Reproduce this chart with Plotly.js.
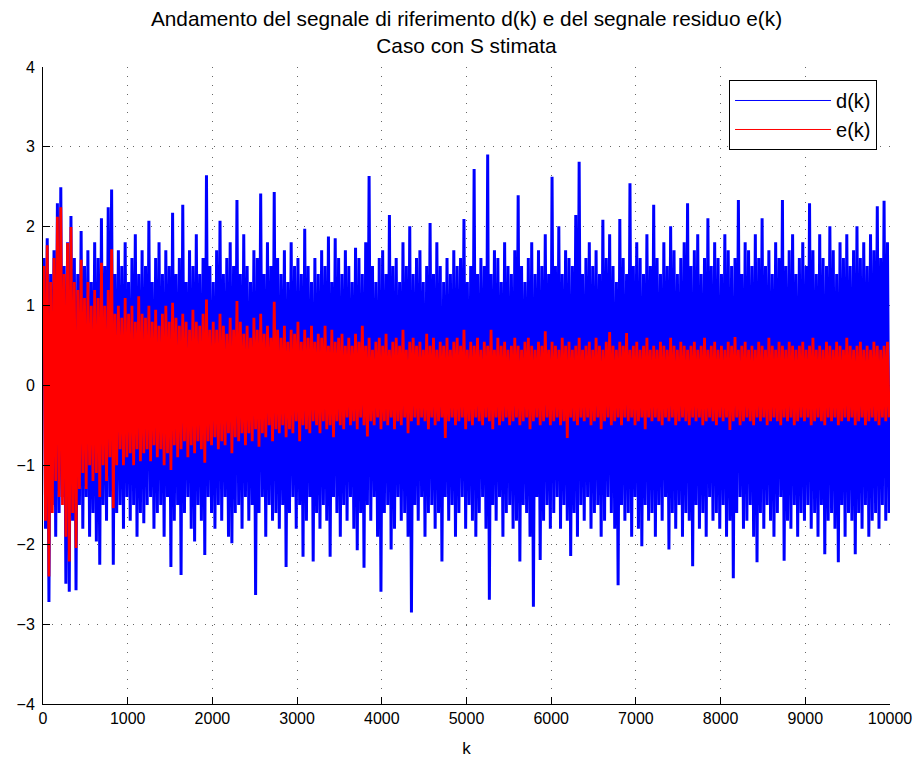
<!DOCTYPE html>
<html>
<head>
<meta charset="utf-8">
<script src="https://cdn.plot.ly/plotly-3.0.1.min.js"></script>
<style>html,body{margin:0;padding:0;background:#fff;}#chart{width:923px;height:762px;}</style>
</head>
<body>
<div id="chart"></div>
<script>
// Samples per bin (each bin: local max and local min)
const BIN = 40;

// d(k): local maxima per bin of 40 samples
const dHi = [
1.6,1.85,1.4,1.7,2.29,2.49,1.5,1.8,2.13,1.6,
1.4,1.94,1.5,1.7,1.3,1.8,1.6,2.1,1.5,2.24,
2.46,1.4,1.7,1.5,1.8,1.3,1.6,1.9,1.4,1.7,
1.5,2.07,1.3,1.6,1.8,1.4,1.7,1.5,2.17,1.4,
1.6,2.27,1.3,1.7,1.5,1.9,1.4,1.6,2.64,1.5,
1.3,1.7,2.07,1.4,1.6,1.8,1.5,2.33,1.4,1.9,
1.5,1.3,1.7,1.6,2.41,1.4,1.8,1.5,2.43,1.6,
1.4,1.7,1.3,1.8,1.5,1.6,1.4,1.97,1.5,1.3,
1.6,1.4,1.7,1.5,1.87,1.3,1.85,1.6,1.4,1.7,
1.5,1.3,1.73,1.6,1.4,1.8,2.63,1.5,1.3,1.6,
1.7,1.4,2.14,1.5,1.6,1.3,1.8,1.5,2.0,1.4,
1.6,1.7,1.3,1.5,2.04,1.4,1.8,1.5,1.3,1.6,
1.4,1.7,1.5,1.6,2.09,1.3,1.5,2.72,1.4,1.6,
1.5,2.9,1.4,1.7,1.6,1.3,1.8,1.5,1.4,1.7,
2.39,1.5,1.3,1.6,1.8,1.4,1.7,1.5,1.9,1.4,
2.62,1.5,2.0,1.4,1.7,1.6,1.5,2.14,2.81,1.4,
1.6,1.8,1.5,1.7,1.4,2.08,1.6,1.9,1.5,1.3,
2.09,1.6,1.4,2.54,1.5,1.8,1.6,1.4,1.9,1.5,
2.27,1.6,1.4,1.8,1.5,2.0,1.7,1.4,1.6,1.8,
2.29,1.5,1.7,1.9,1.4,1.6,2.1,1.5,1.8,1.6,
1.4,1.9,1.7,1.5,1.6,2.33,1.4,1.8,1.7,1.5,
1.9,1.6,2.1,1.5,1.7,1.4,1.8,1.6,2.33,1.5,
1.7,1.9,1.4,1.6,1.8,1.5,2.29,1.7,1.4,1.9,
1.6,1.5,2.0,1.7,1.4,1.8,1.6,1.9,1.5,1.7,
2.0,1.6,1.8,1.5,1.9,1.7,2.25,1.6,2.32,1.8
];
// d(k): local minima per bin
const dLo = [
-1.8,-2.72,-1.5,-1.9,-1.6,-1.4,-2.49,-2.59,-1.7,-2.57,
-1.5,-1.8,-1.4,-1.9,-1.6,-1.96,-2.25,-1.5,-1.7,-1.4,
-2.25,-1.6,-1.5,-1.8,-1.4,-1.7,-1.5,-1.9,-1.6,-1.73,
-1.5,-1.4,-1.8,-1.6,-1.5,-1.9,-1.4,-2.28,-1.7,-1.5,
-2.38,-1.6,-1.4,-1.8,-1.96,-1.5,-1.7,-2.13,-1.4,-1.6,
-1.8,-1.5,-1.7,-1.4,-1.9,-1.98,-1.6,-1.5,-1.8,-1.4,
-1.7,-1.5,-2.63,-1.6,-1.4,-1.9,-1.5,-1.7,-1.6,-1.8,
-1.5,-2.28,-1.6,-1.4,-1.8,-1.5,-2.15,-1.7,-1.4,-2.21,
-1.6,-1.8,-1.5,-1.7,-2.15,-1.4,-1.6,-1.9,-1.5,-1.7,
-1.4,-1.8,-2.07,-1.6,-2.29,-1.5,-1.7,-1.4,-1.9,-2.59,
-1.6,-1.5,-2.06,-1.8,-1.4,-1.7,-1.6,-1.9,-2.85,-1.5,
-1.7,-1.4,-1.9,-1.6,-1.5,-1.8,-1.6,-2.21,-1.4,-1.7,
-1.5,-1.9,-1.6,-1.4,-1.8,-1.5,-1.7,-1.9,-1.6,-1.4,
-1.8,-2.69,-1.5,-1.7,-1.4,-1.9,-1.6,-1.5,-1.8,-1.7,
-2.21,-1.5,-1.6,-1.9,-2.78,-1.4,-2.19,-1.7,-1.5,-1.8,
-1.6,-1.4,-1.8,-1.5,-1.7,-2.14,-1.6,-1.9,-1.5,-1.7,
-1.4,-1.8,-1.6,-1.5,-1.9,-1.7,-1.4,-1.6,-1.8,-2.51,
-1.5,-1.7,-1.6,-1.9,-1.4,-1.8,-2.02,-1.5,-1.7,-1.6,
-1.9,-1.5,-1.7,-1.4,-2.06,-1.6,-1.8,-1.5,-1.9,-1.6,
-1.7,-2.27,-1.5,-1.8,-1.6,-1.9,-1.4,-1.7,-1.6,-1.8,
-1.5,-1.9,-1.7,-2.42,-1.6,-1.4,-1.8,-1.7,-1.5,-1.9,
-2.22,-1.6,-1.8,-1.5,-1.7,-1.9,-1.6,-1.4,-2.2,-1.7,
-1.8,-1.5,-1.9,-1.6,-1.7,-1.5,-1.8,-1.6,-1.9,-1.5,
-2.12,-1.7,-1.6,-1.8,-2.22,-1.5,-1.9,-1.6,-1.7,-2.12,
-1.6,-1.8,-1.5,-1.9,-1.7,-1.6,-1.8,-1.5,-1.7,-1.6
];
// e(k): local maxima per bin
const eHi = [
1.5,1.76,1.3,1.6,2.12,2.24,1.4,1.79,1.99,1.3,
1.2,1.58,1.1,1.3,1.0,1.2,1.1,1.54,1.0,1.2,
1.71,0.9,1.0,0.85,1.1,0.9,1.0,0.8,1.12,0.9,
0.85,1.0,0.8,0.95,0.75,0.9,1.0,0.8,1.04,0.85,
0.75,0.9,0.8,0.7,0.95,0.8,0.75,0.9,1.08,0.7,
0.8,0.7,0.9,0.75,0.65,0.85,0.7,1.06,0.8,0.65,
0.75,0.6,0.85,0.7,0.9,0.65,0.75,0.6,1.05,0.7,
0.6,0.75,0.55,0.7,0.65,0.8,0.55,0.7,0.6,0.75,
0.55,0.65,0.6,0.75,0.5,0.7,0.55,0.6,0.65,0.5,
0.6,0.5,0.65,0.55,0.75,0.5,0.6,0.45,0.55,0.6,
0.5,0.65,0.45,0.55,0.6,0.5,0.7,0.45,0.55,0.6,
0.5,0.55,0.45,0.65,0.5,0.6,0.45,0.55,0.5,0.6,
0.45,0.55,0.6,0.5,0.7,0.45,0.55,0.5,0.6,0.45,
0.55,0.5,0.7,0.45,0.6,0.5,0.55,0.45,0.5,0.6,
0.5,0.45,0.55,0.6,0.5,0.45,0.55,0.5,0.68,0.45,
0.55,0.5,0.45,0.6,0.5,0.55,0.45,0.5,0.6,0.45,
0.5,0.55,0.45,0.6,0.5,0.45,0.55,0.67,0.5,0.45,
0.55,0.5,0.66,0.45,0.5,0.55,0.45,0.5,0.6,0.45,
0.5,0.45,0.55,0.5,0.45,0.6,0.5,0.45,0.55,0.5,
0.45,0.5,0.55,0.45,0.5,0.6,0.45,0.5,0.55,0.45,
0.5,0.45,0.55,0.5,0.61,0.45,0.5,0.55,0.45,0.5,
0.45,0.55,0.5,0.45,0.6,0.5,0.45,0.55,0.5,0.45,
0.55,0.5,0.45,0.5,0.55,0.45,0.5,0.6,0.45,0.5,
0.45,0.55,0.5,0.45,0.55,0.5,0.45,0.6,0.5,0.45,
0.5,0.55,0.45,0.5,0.45,0.55,0.5,0.45,0.5,0.55
];
// e(k): local minima per bin
const eLo = [
-1.7,-2.4,-1.6,-1.2,-1.4,-1.5,-1.9,-2.21,-1.6,-2.04,
-1.3,-1.1,-1.3,-1.0,-1.2,-1.1,-1.4,-1.0,-1.2,-0.9,
-1.54,-1.0,-0.8,-1.0,-0.9,-0.85,-1.0,-0.8,-0.95,-0.85,
-0.8,-0.95,-0.75,-0.9,-0.8,-1.0,-0.85,-1.06,-0.75,-0.9,
-0.8,-0.7,-0.9,-0.75,-0.85,-0.7,-0.8,-0.97,-0.7,-0.75,
-0.65,-0.8,-0.7,-0.75,-0.6,-0.85,-0.65,-0.7,-0.6,-0.75,
-0.6,-0.7,-0.55,-0.77,-0.6,-0.65,-0.5,-0.7,-0.55,-0.6,
-0.5,-0.65,-0.55,-0.6,-0.45,-0.7,-0.5,-0.55,-0.6,-0.45,
-0.5,-0.6,-0.45,-0.55,-0.5,-0.65,-0.45,-0.5,-0.55,-0.4,
-0.5,-0.45,-0.55,-0.4,-0.5,-0.64,-0.45,-0.5,-0.4,-0.55,
-0.45,-0.5,-0.4,-0.55,-0.45,-0.5,-0.4,-0.6,-0.45,-0.4,
-0.5,-0.4,-0.45,-0.55,-0.4,-0.5,-0.45,-0.4,-0.66,-0.45,
-0.4,-0.5,-0.45,-0.4,-0.55,-0.45,-0.5,-0.4,-0.45,-0.5,
-0.4,-0.45,-0.55,-0.4,-0.5,-0.45,-0.4,-0.5,-0.45,-0.4,
-0.5,-0.45,-0.4,-0.55,-0.45,-0.4,-0.5,-0.45,-0.4,-0.5,
-0.45,-0.4,-0.5,-0.45,-0.66,-0.4,-0.45,-0.5,-0.4,-0.45,
-0.4,-0.5,-0.45,-0.4,-0.55,-0.45,-0.4,-0.5,-0.45,-0.4,
-0.5,-0.4,-0.45,-0.4,-0.5,-0.45,-0.4,-0.55,-0.4,-0.45,
-0.4,-0.45,-0.5,-0.4,-0.45,-0.4,-0.5,-0.45,-0.4,-0.45,
-0.5,-0.4,-0.45,-0.4,-0.5,-0.45,-0.4,-0.45,-0.5,-0.4,
-0.45,-0.4,-0.56,-0.45,-0.4,-0.5,-0.45,-0.4,-0.45,-0.5,
-0.4,-0.45,-0.4,-0.5,-0.45,-0.4,-0.45,-0.5,-0.4,-0.45,
-0.4,-0.5,-0.45,-0.4,-0.45,-0.4,-0.5,-0.45,-0.4,-0.45,
-0.5,-0.4,-0.45,-0.4,-0.5,-0.45,-0.4,-0.45,-0.4,-0.5,
-0.45,-0.4,-0.5,-0.45,-0.4,-0.45,-0.5,-0.4,-0.45,-0.4
];

const xTicks = [0,1000,2000,3000,4000,5000,6000,7000,8000,9000,10000];
const yTicks = [-4,-3,-2,-1,0,1,2,3,4];
const seriesNames = ['d(k)', 'e(k)'];
const seriesColors = ['#0000ff', '#ff0000'];
const titleText = "Andamento del segnale di riferimento d(k) e del segnale residuo e(k)<br>Caso con S stimata";

function envelope(hi, lo) {
  const x = [], y = [];
  for (let i = 0; i < hi.length; i++) {
    x.push(i * BIN + BIN * 0.25, i * BIN + BIN * 0.75);
    y.push(hi[i], lo[i]);
  }
  return {x, y};
}
const dEnv = envelope(dHi, dLo);
const eEnv = envelope(eHi, eLo);

const FONT = "Liberation Sans, Arial, Helvetica, sans-serif";

const traces = [
  {x: dEnv.x, y: dEnv.y, type: 'scatter', mode: 'lines', name: seriesNames[0],
   legendgroup: 'd', showlegend: false,
   line: {color: seriesColors[0], width: 3, simplify: false}},
  {x: eEnv.x, y: eEnv.y, type: 'scatter', mode: 'lines', name: seriesNames[1],
   legendgroup: 'e', showlegend: false,
   line: {color: seriesColors[1], width: 2.8, simplify: false}},
  // legend keys (thin lines as in the reference legend)
  {x: [null], y: [null], type: 'scatter', mode: 'lines', name: seriesNames[0],
   legendgroup: 'd', showlegend: true, hoverinfo: 'skip',
   line: {color: seriesColors[0], width: 1}},
  {x: [null], y: [null], type: 'scatter', mode: 'lines', name: seriesNames[1],
   legendgroup: 'e', showlegend: true, hoverinfo: 'skip',
   line: {color: seriesColors[1], width: 1}}
];

const gridStyle = {showgrid: true, gridcolor: 'rgba(0,0,0,0.6)', gridwidth: 1, griddash: '1px,8px'};

const layout = {
  width: 923, height: 762,
  margin: {l: 43, r: 33, t: 67, b: 58},
  paper_bgcolor: '#ffffff', plot_bgcolor: '#ffffff',
  font: {family: FONT, size: 16, color: '#000'},
  title: {text: titleText, x: 0.5, xref: 'paper', xanchor: 'center',
          y: 1 - 26/762, yref: 'container', yanchor: 'top',
          font: {family: FONT, size: 20.8, color: '#000'}},
  showlegend: true,
  legend: {x: 0.9847, xanchor: 'right', y: 0.9796, yanchor: 'top',
           bgcolor: '#ffffff', bordercolor: '#000', borderwidth: 1,
           font: {family: FONT, size: 20, color: '#000'}, itemwidth: 96,
           tracegroupgap: 0, traceorder: 'normal'},
  xaxis: Object.assign({
    range: [0, 10000], tickvals: xTicks, ticktext: xTicks.map(String),
    ticks: 'inside', ticklen: 7, tickcolor: '#000', tickwidth: 1,
    showline: true, linecolor: '#000', linewidth: 1, mirror: false,
    zeroline: false, automargin: false,
    tickfont: {family: FONT, size: 16, color: '#000'},
    title: {text: 'k', font: {family: FONT, size: 17, color: '#000'}, standoff: 15}
  }, gridStyle),
  yaxis: Object.assign({
    range: [-4, 4], tickvals: yTicks,
    ticks: 'inside', ticklen: 7, tickcolor: '#000', tickwidth: 1,
    showline: true, linecolor: '#000', linewidth: 1, mirror: false,
    zeroline: false, automargin: false, ticklabelstandoff: 4,
    tickfont: {family: FONT, size: 16, color: '#000'}
  }, gridStyle)
};

Plotly.newPlot('chart', traces, layout, {displayModeBar: false, staticPlot: true});
</script>
</body>
</html>
